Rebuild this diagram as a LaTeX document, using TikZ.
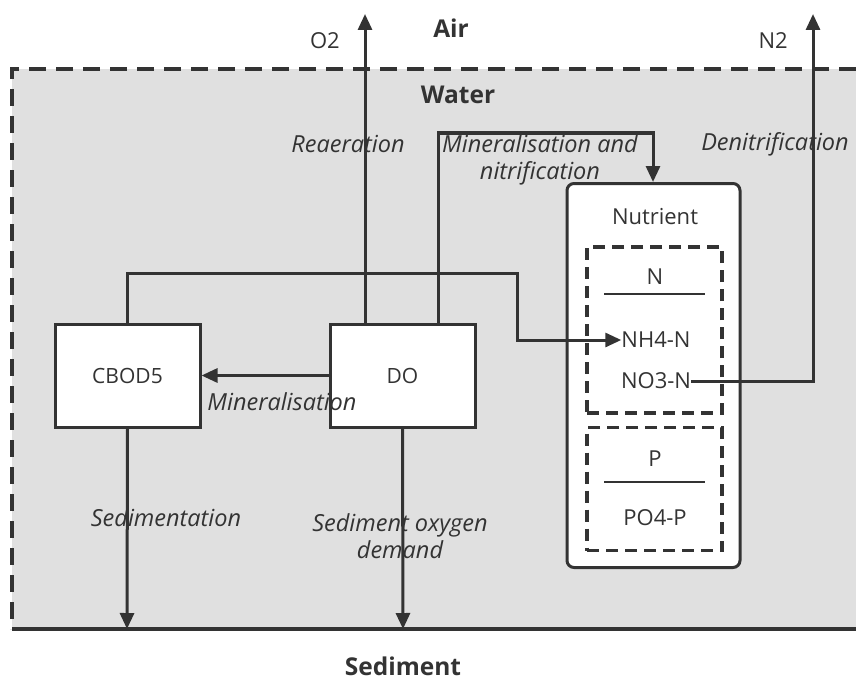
\documentclass[tikz,border=0pt]{standalone}
\usepackage{fontspec}
\setmainfont{Open Sans}
\usetikzlibrary{arrows.meta}
\definecolor{ink}{HTML}{333333}
\definecolor{water}{HTML}{E0E0E0}
\begin{document}
\begin{tikzpicture}[x=1pt,y=-1pt,
  conn/.style={draw=ink,line width=3pt},
  arr/.style={conn,-{Triangle[length=16pt,width=14pt]}},
  lbl/.style={text=ink,font=\fontsize{23.5}{27}\selectfont\itshape,inner sep=0pt,align=center},
  txt/.style={text=ink,font=\fontsize{22}{24}\selectfont,inner sep=0pt},
  zone/.style={text=ink,font=\fontsize{24.5}{27}\selectfont\bfseries,inner sep=0pt},
  procbox/.style={draw=ink,line width=3pt,fill=white,minimum width=145pt,minimum height=103pt,inner sep=0pt,text=ink,font=\fontsize{21}{24}\selectfont},
  dbox/.style={draw=ink,line width=3.2pt,dash pattern=on 12pt off 7pt,minimum width=135pt,inner sep=0pt}]
\useasboundingbox (0,0) rectangle (856,698);
% water region
\fill[water] (12,69) rectangle (856,629);
\draw[ink,line width=3.2pt,dash pattern=on 17pt off 10pt] (856,69) -- (12,69) -- (12,629);
\draw[ink,line width=4pt] (12,629) -- (856,629);
\coordinate (bedA) at (127,629);
\coordinate (bedB) at (403,629);
\coordinate (o2top) at (365,14);
\coordinate (n2top) at (813,14);
% zone labels
\node[zone] (air) at (451,28) {Air};
\node[zone] (wat) at (458,95) {Water};
\node[zone] (sed) at (403,666) {Sediment};
% process boxes
\node[procbox] (cbod) at (127.5,375.5) {CBOD5};
\node[procbox] (do) at (402.5,375.5) {DO};
% nutrient
\node[draw=ink,line width=3pt,fill=white,rounded corners=7pt,minimum width=173pt,minimum height=384pt,inner sep=0pt] (nut) at (653.5,375.5) {};
\node[txt] (nuttxt) at (655,217) {Nutrient};
\node[dbox,minimum height=166pt] (nbox) at (654.5,330) {};
\node[dbox,minimum height=123pt] (pbox) at (654.5,489) {};
\node[txt] (ntxt) at (655,277) {N};
\draw[ink,line width=1.4pt] (604,294) -- (705,294);
\node[txt] (nh4) at (656,340) {NH4-N};
\node[txt] (no3) at (656,381) {NO3-N};
\node[txt] (ptxt) at (655,459) {P};
\draw[ink,line width=1.4pt] (604,482) -- (705,482);
\node[txt] (po4) at (655,518) {PO4-P};
% connectors
\draw[arr] (do.north -| o2top) -- (o2top);
\node[txt,anchor=east] (o2) at (340,41) {O2};
\draw[arr] (no3.east) -- (no3.east -| n2top) -- (n2top);
\node[txt,anchor=east] (n2) at (788,41) {N2};
\draw[arr] (do.west) -- (cbod.east);
\draw[arr] (cbod.north) -- (127.5,273) -- (517,273) -- (517,340) -- (nh4.west);
\draw[arr] (438,324) -- (438,133) -- (653,133) -- (nut.north -| 653,0);
\draw[arr] (cbod.south) -- (bedA);
\draw[arr] (do.south) -- (bedB);
% labels
\node[lbl] (l1) at (348,144) {Reaeration};
\node[lbl] (l2) at (540,160) {Mineralisation and\\nitrification};
\node[lbl] (l3) at (775,144) {Denitrification};
\node[lbl] (l4) at (282,402) {Mineralisation};
\node[lbl] (l5) at (166,518) {Sedimentation};
\node[lbl] (l6) at (400,536) {Sediment oxygen\\demand};
\end{tikzpicture}
\end{document}
